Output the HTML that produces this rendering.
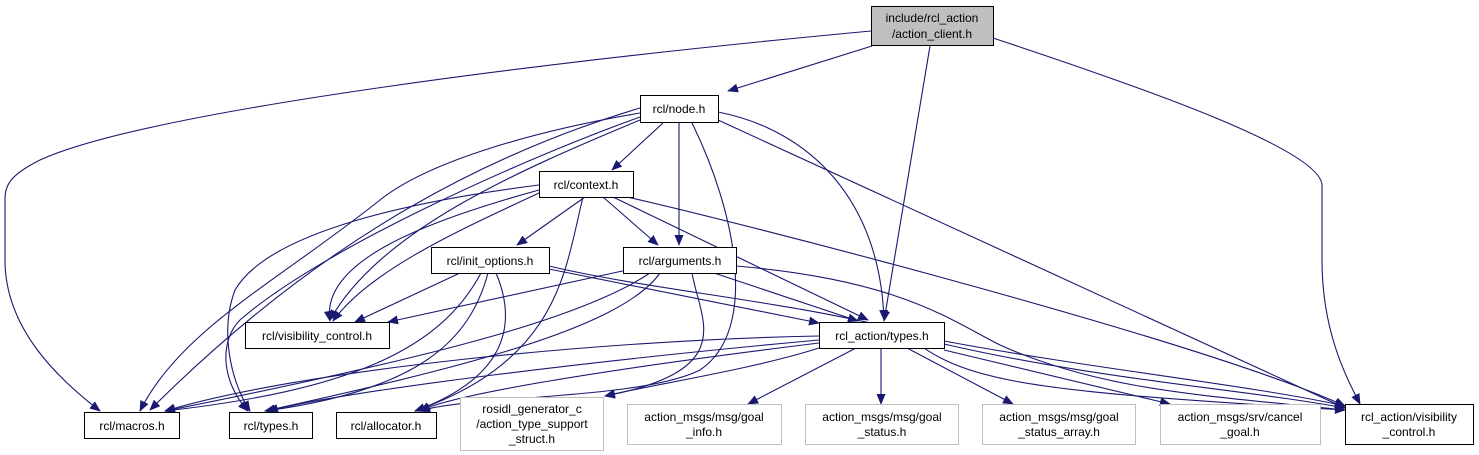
<!DOCTYPE html>
<html><head><meta charset="utf-8"><style>
html,body{margin:0;padding:0;background:#fff;}
svg{display:block;}
text{font-family:"Liberation Sans",sans-serif;font-size:12px;fill:#000;}
</style></head><body>
<svg width="1479" height="455" viewBox="0 0 1479 455" xmlns="http://www.w3.org/2000/svg">
<defs>
<marker id="a" markerWidth="11" markerHeight="9" refX="10" refY="4.5" orient="auto" markerUnits="userSpaceOnUse">
<path d="M0,0 L11,4.5 L0,9 Z" fill="#191970"/>
</marker>
</defs>
<g fill="none" stroke="#191970" stroke-width="1.1" marker-end="url(#a)">
<path d="M871,31 C560,60 150,110 40,160 C10,175 5,185 5,200 L5,260 C5,330 60,380 100,411"/>
<path d="M872,46 L728,91"/>
<path d="M930,46 L884,321"/>
<path d="M993,38 C1150,90 1320,150 1322,185 L1322,260 C1322,330 1345,375 1360,404"/>
<path d="M663,123 L612,170"/>
<path d="M679,123 L679,245"/>
<path d="M640,113 C540,130 430,160 380,200 C280,280 180,330 140,411"/>
<path d="M640,117 C520,160 320,250 240,320 C220,340 220,380 248,411"/>
<path d="M640,120 C520,170 380,230 330,320"/>
<path d="M692,123 C735,210 760,330 700,370 C640,400 470,395 420,411"/>
<path d="M718,112 C810,130 880,200 884,320"/>
<path d="M718,120 L1345,408"/>
<path d="M640,108 C500,150 330,230 150,410"/>
<path d="M585,197 L517,245"/>
<path d="M603,197 L658,245"/>
<path d="M539,185 C420,200 270,230 235,290 C220,330 230,380 250,411"/>
<path d="M539,193 C460,230 370,270 333,321"/>
<path d="M539,190 C430,220 320,260 330,321"/>
<path d="M583,197 C565,270 560,360 415,411"/>
<path d="M613,197 L868,320"/>
<path d="M627,197 C730,220 1200,340 1345,406"/>
<path d="M460,273 L355,322"/>
<path d="M481,273 C440,350 350,390 165,411"/>
<path d="M488,273 C470,340 420,390 265,411"/>
<path d="M496,273 C520,330 500,380 415,411"/>
<path d="M549,269 L819,323"/>
<path d="M549,266 C650,290 780,300 900,330 C960,380 1000,390 1345,410"/>
<path d="M627,270 L388,322"/>
<path d="M650,273 C580,320 420,360 165,411"/>
<path d="M660,273 C620,330 450,370 265,411"/>
<path d="M692,273 C700,320 740,370 605,396"/>
<path d="M714,273 L858,321"/>
<path d="M736,266 C900,280 950,320 1000,345 C1100,390 1200,395 1345,410"/>
<path d="M819,336 C600,340 300,370 165,411"/>
<path d="M819,340 C600,360 350,390 268,411"/>
<path d="M819,343 C600,370 450,395 420,411"/>
<path d="M819,348 C750,370 650,385 605,396"/>
<path d="M856,348 L748,404"/>
<path d="M881,348 L881,404"/>
<path d="M907,348 L1013,404"/>
<path d="M944,350 L1170,404"/>
<path d="M944,344 C1100,380 1250,390 1345,408"/>
<path d="M944,341 C1100,370 1250,385 1345,406"/>
</g>
<g stroke-width="1">
<rect x="871.5" y="6.5" width="122" height="39" fill="#bfbfbf" stroke="#000"/>
<rect x="640.5" y="95.5" width="78" height="27" fill="#fff" stroke="#000"/>
<rect x="539.5" y="171.5" width="94" height="26" fill="#fff" stroke="#000"/>
<rect x="431.5" y="247.5" width="118" height="26" fill="#fff" stroke="#000"/>
<rect x="623.5" y="247.5" width="113" height="26" fill="#fff" stroke="#000"/>
<rect x="245.5" y="322.5" width="144" height="26" fill="#fff" stroke="#000"/>
<rect x="819.5" y="322.5" width="125" height="26" fill="#fff" stroke="#000"/>
<rect x="84.5" y="412.5" width="95" height="26" fill="#fff" stroke="#000"/>
<rect x="229.5" y="412.5" width="83" height="26" fill="#fff" stroke="#000"/>
<rect x="336.5" y="412.5" width="100" height="26" fill="#fff" stroke="#000"/>
<rect x="460.5" y="397.5" width="143" height="53" fill="#fff" stroke="#bfbfbf"/>
<rect x="627.5" y="404.5" width="154" height="40" fill="#fff" stroke="#bfbfbf"/>
<rect x="805.5" y="404.5" width="153" height="40" fill="#fff" stroke="#bfbfbf"/>
<rect x="982.5" y="404.5" width="153" height="40" fill="#fff" stroke="#bfbfbf"/>
<rect x="1160.5" y="404.5" width="160" height="40" fill="#fff" stroke="#bfbfbf"/>
<rect x="1345.5" y="404.5" width="128" height="40" fill="#fff" stroke="#000"/>
</g>
<g text-anchor="middle">
<text x="932" y="22">include/rcl_action</text>
<text x="932" y="38">/action_client.h</text>
<text x="679" y="113">rcl/node.h</text>
<text x="586" y="189">rcl/context.h</text>
<text x="490" y="265">rcl/init_options.h</text>
<text x="680" y="265">rcl/arguments.h</text>
<text x="317" y="340">rcl/visibility_control.h</text>
<text x="882" y="340">rcl_action/types.h</text>
<text x="132" y="430">rcl/macros.h</text>
<text x="271" y="430">rcl/types.h</text>
<text x="386" y="430">rcl/allocator.h</text>
<text x="532" y="413">rosidl_generator_c</text>
<text x="532" y="428">/action_type_support</text>
<text x="532" y="443">_struct.h</text>
<text x="704" y="421">action_msgs/msg/goal</text>
<text x="704" y="436">_info.h</text>
<text x="882" y="421">action_msgs/msg/goal</text>
<text x="882" y="436">_status.h</text>
<text x="1059" y="421">action_msgs/msg/goal</text>
<text x="1059" y="436">_status_array.h</text>
<text x="1240" y="421">action_msgs/srv/cancel</text>
<text x="1240" y="436">_goal.h</text>
<text x="1409" y="421">rcl_action/visibility</text>
<text x="1409" y="436">_control.h</text>
</g>
</svg>
</body></html>
